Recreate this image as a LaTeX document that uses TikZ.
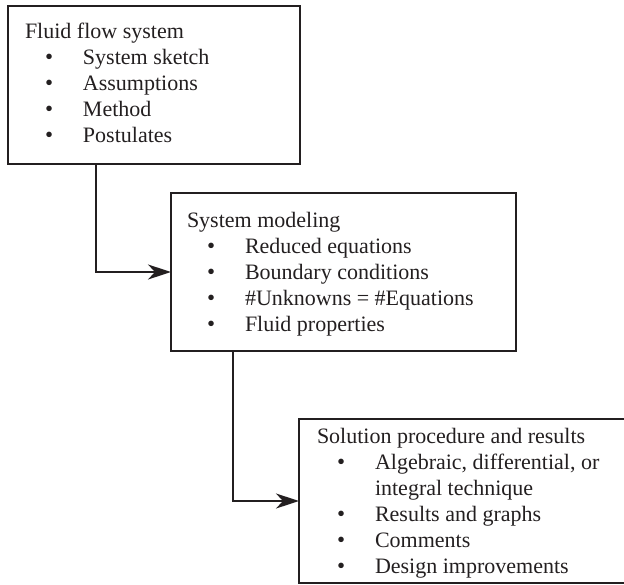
\documentclass[tikz,border=0pt]{standalone}
\usepackage{fontspec}
\setmainfont{Liberation Serif}
\usetikzlibrary{arrows.meta}
\definecolor{ink}{HTML}{231F20}
\newcommand\bulletmark{\raisebox{0pt}{\fontsize{23}{23}\selectfont\textbullet}}
\newcommand\itm[1]{\makebox[58pt][l]{\hspace{20pt}\bulletmark}#1}
\newcommand\cont[1]{\hspace*{58pt}#1}
\begin{document}
\begin{tikzpicture}[x=1pt,y=-1pt,
  frame/.style={draw=ink, line width=2pt, anchor=north west, inner sep=0pt, outer sep=0pt},
  txt/.style={anchor=base west, inner sep=0pt, outer sep=0pt, text=ink, font=\fontsize{22}{26}\selectfont},
  link/.style={draw=ink, line width=2pt, -{Stealth[length=23pt,width=15pt,inset=7pt]}}]
\useasboundingbox (0,0) rectangle (624,584);
\clip (0,0) rectangle (624,584);
% boxes
\node[frame, minimum width=292pt, minimum height=158pt] (box1) at (8,6) {};
\node[frame, minimum width=345pt, minimum height=158pt] (box2) at (171,193) {};
\node[frame, minimum width=345pt, minimum height=164pt] (box3) at (299,419) {};
% texts
\node[txt] (t1) at (25,38) {\begin{tabular}[t]{@{}l@{}}
Fluid flow system\\
\itm{System sketch}\\
\itm{Assumptions}\\
\itm{Method}\\
\itm{Postulates}
\end{tabular}};
\node[txt] (t2) at (187,227) {\begin{tabular}[t]{@{}l@{}}
System modeling\\
\itm{Reduced equations}\\
\itm{Boundary conditions}\\
\itm{\#Unknowns = \#Equations}\\
\itm{Fluid properties}
\end{tabular}};
\node[txt] (t3) at (317,443) {\begin{tabular}[t]{@{}l@{}}
Solution procedure and results\\
\itm{Algebraic, differential, or}\\
\cont{integral technique}\\
\itm{Results and graphs}\\
\itm{Comments}\\
\itm{Design improvements}
\end{tabular}};
% connectors
\draw[link] ([xshift=88pt]box1.south west) |- (box2.west);
\draw[link] ([xshift=62pt]box2.south west) |- (box3.west);
\end{tikzpicture}
\end{document}
